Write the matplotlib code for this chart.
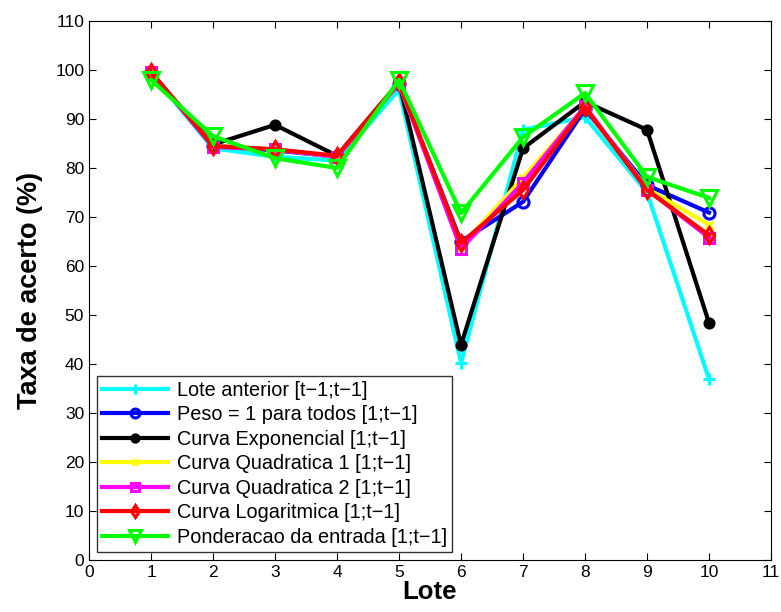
import matplotlib
matplotlib.use("Agg")
import matplotlib.pyplot as plt

plt.rcParams['font.family'] = ['Liberation Sans', 'DejaVu Sans']

lotes = [1, 2, 3, 4, 5, 6, 7, 8, 9, 10]

lote_anterior = [99.3, 84.0, 82.3, 81.5, 96.0, 40.2, 87.8, 90.4, 75.0, 36.9]
peso_um = [99.5, 84.5, 83.6, 82.3, 97.2, 65.0, 73.1, 92.0, 76.5, 70.9]
curva_exp = [99.5, 84.8, 88.8, 82.5, 97.5, 43.9, 84.0, 93.5, 87.8, 48.4]
curva_quad1 = [99.5, 84.5, 83.8, 82.3, 97.2, 64.0, 78.0, 92.4, 75.8, 68.4]
curva_quad2 = [99.5, 84.3, 83.8, 82.3, 97.3, 63.5, 77.0, 92.6, 75.6, 65.8]
curva_log = [99.6, 84.5, 83.8, 82.5, 97.5, 64.7, 75.5, 92.4, 75.5, 66.3]
ponderacao = [98.0, 86.5, 82.0, 80.0, 98.0, 70.8, 86.3, 95.3, 78.2, 73.9]

series = [
    (lote_anterior, 'Lote anterior [t\u22121;t\u22121]', 'cyan', '+', 'full', 9),
    (peso_um, 'Peso = 1 para todos [1;t\u22121]', 'blue', 'o', 'none', 8),
    (curva_exp, 'Curva Exponencial [1;t\u22121]', 'black', 'o', 'full', 6.5),
    (curva_quad1, 'Curva Quadratica 1 [1;t\u22121]', 'yellow', 'x', 'full', 6),
    (curva_quad2, 'Curva Quadratica 2 [1;t\u22121]', 'magenta', 's', 'none', 7),
    (curva_log, 'Curva Logaritmica [1;t\u22121]', 'red', 'd', 'none', 8),
    (ponderacao, 'Ponderacao da entrada [1;t\u22121]', '#00ff00', 'v', 'none', 11),
]

fig = plt.figure(figsize=(7.81, 6.12), dpi=100)
ax = fig.add_axes([89 / 781, 1 - 560 / 612, (771 - 89) / 781, (560 - 21) / 612])

for vals, label, color, marker, fill, ms in series:
    ax.plot(lotes, vals, color=color, marker=marker, lw=3, ms=ms, mew=2.2,
            fillstyle=fill, label=label)

ax.set_xlim(0, 11)
ax.set_ylim(0, 110)
ax.set_xticks(range(0, 12))
ax.set_yticks(range(0, 111, 10))
ax.tick_params(direction='in', labelsize=12.5, length=5, top=True, right=True)
ax.set_xlabel('Lote', fontsize=18.5, fontweight='bold', labelpad=0)
ax.set_ylabel('Taxa de acerto (%)', fontsize=19.5, fontweight='bold', labelpad=9)

leg = ax.legend(loc='lower left', fontsize=14.3, frameon=True, fancybox=False,
                edgecolor='black', handlelength=3.3, borderpad=0.25,
                labelspacing=0.28, handletextpad=0.45, borderaxespad=0,
                markerscale=0.8, bbox_to_anchor=(0.012, 0.015))
leg.get_frame().set_linewidth(1.0)

fig.savefig('out.png', dpi=100)
